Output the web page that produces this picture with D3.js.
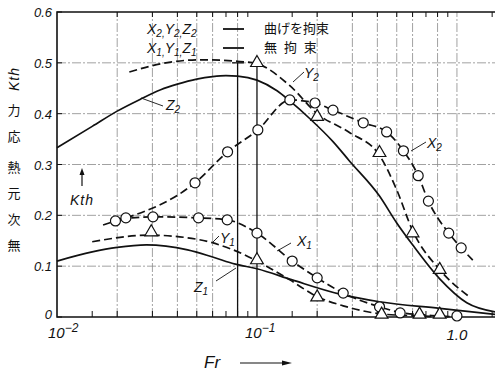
<!DOCTYPE html>
<html>
<head>
<meta charset="utf-8">
<script src="https://cdn.jsdelivr.net/npm/d3@7"></script>
<style>
  body { margin: 0; background: #fff; }
  text { font-family: 'Liberation Sans', sans-serif; fill: #111; }
  .jp { font-family: 'Noto Sans CJK JP', sans-serif; }
</style>
</head>
<body>
<div id="chart-area"></div>
<script>
// Fr / Kth readings (log x)
const z2Line = [[0.01,0.333],[0.015,0.375],[0.02,0.405],[0.026,0.428],[0.033,0.447],[0.04,0.458],[0.05,0.468],[0.06,0.473],[0.07,0.475],[0.08,0.474],[0.1,0.466],[0.126,0.445],[0.146,0.425],[0.184,0.39],[0.24,0.345],[0.29,0.307],[0.41,0.238],[0.5,0.185],[0.6,0.142],[0.82,0.075],[1.12,0.028],[1.55,0.01]]
const y2Line = [[0.023,0.482],[0.035,0.5],[0.052,0.506],[0.08,0.503],[0.1,0.498],[0.146,0.455],[0.2,0.4],[0.29,0.363],[0.41,0.318],[0.5,0.25],[0.6,0.17],[0.82,0.093],[1.16,0.039]]
const y2Tri = [[0.1,0.5],[0.2,0.394],[0.41,0.323],[0.6,0.165],[0.82,0.093]]
const x2Line = [[0.017,0.181],[0.0196,0.189],[0.0221,0.195],[0.049,0.264],[0.0713,0.325],[0.101,0.368],[0.146,0.427],[0.195,0.421],[0.24,0.407],[0.34,0.382],[0.445,0.364],[0.54,0.327],[0.64,0.278],[0.72,0.228],[0.91,0.165],[1.05,0.136],[1.2,0.112]]
const x2Circ = [[0.0196,0.189],[0.049,0.264],[0.0713,0.325],[0.101,0.368],[0.146,0.427],[0.195,0.421],[0.24,0.407],[0.34,0.382],[0.445,0.364],[0.54,0.327],[0.64,0.278],[0.72,0.228],[0.91,0.165],[1.05,0.136]]
const x1Line = [[0.0205,0.193],[0.0302,0.197],[0.051,0.195],[0.071,0.191],[0.1,0.165],[0.15,0.11],[0.2,0.077],[0.27,0.047],[0.41,0.02],[0.52,0.009],[0.75,0.003],[1.0,0.0]]
const x1Circ = [[0.0221,0.195],[0.0302,0.197],[0.051,0.195],[0.071,0.191],[0.1,0.165],[0.15,0.11],[0.2,0.077],[0.27,0.047],[0.41,0.02],[0.52,0.008],[1.0,0.002]]
const y1Line = [[0.015,0.148],[0.0292,0.161],[0.05,0.153],[0.075,0.133],[0.1,0.11],[0.146,0.073],[0.2,0.04],[0.27,0.022],[0.42,0.006],[0.65,0.002],[0.9,0.0]]
const y1Tri = [[0.0296,0.167],[0.1,0.112],[0.2,0.039],[0.42,0.005],[0.65,0.005],[0.82,0.005]]
const z1Line = [[0.01,0.11],[0.015,0.128],[0.02,0.137],[0.028,0.142],[0.045,0.132],[0.06,0.118],[0.078,0.104],[0.1,0.095],[0.15,0.073],[0.26,0.045],[0.41,0.03],[0.82,0.017],[1.55,0.005]]

const yTicks = [0, 0.1, 0.2, 0.3, 0.4, 0.5, 0.6]
const gridFr = [0.02,0.03,0.04,0.05,0.06,0.08,0.2,0.3,0.4,0.5,0.6,0.8,1.0]
const minorFr = [0.015,0.02,0.03,0.04,0.05,0.06,0.07,0.08,0.09,0.15,0.2,0.3,0.4,0.5,0.6,0.7,0.8,0.9,1.5]
const dropFr = [0.08, 0.1]

const W = 495, H = 371
const x = d3.scaleLog().domain([0.01, 1.55]).range([57, 495])
const y = d3.scaleLinear().domain([0, 0.6]).range([317, 12])

const svg = d3.select('#chart-area').append('svg')
  .attr('width', W).attr('height', H)

// grid
const grid = svg.append('g')
  .attr('stroke', '#8a8a8a').attr('stroke-width', 0.8)
  .attr('stroke-dasharray', '9,2,2,2')
grid.selectAll('.gv').data(gridFr).enter().append('line')
  .attr('x1', d => x(d)).attr('x2', d => x(d))
  .attr('y1', y(0)).attr('y2', y(0.6))
grid.selectAll('.gh').data(yTicks.slice(1, 6)).enter().append('line')
  .attr('x1', x(0.01)).attr('x2', W)
  .attr('y1', d => y(d)).attr('y2', d => y(d))

// drop lines at peaks
svg.selectAll('.drop').data(dropFr).enter().append('line')
  .attr('x1', d => x(d)).attr('x2', d => x(d))
  .attr('y1', y(0)).attr('y2', y(0.5))
  .attr('stroke', '#111').attr('stroke-width', 1.3)
svg.append('line')
  .attr('x1', x(0.075)).attr('x2', x(0.086))
  .attr('y1', y(0.5)).attr('y2', y(0.5))
  .attr('stroke', '#111').attr('stroke-width', 1.3)

// frame
svg.append('path')
  .attr('d', `M${W},${y(0.6)}H${x(0.01)}V${y(0)}H${W}`)
  .attr('fill', 'none').attr('stroke', '#111').attr('stroke-width', 1.6)

// ticks
const ticks = svg.append('g').attr('stroke', '#111').attr('stroke-width', 1)
ticks.selectAll('.tb').data(minorFr).enter().append('line')
  .attr('x1', d => x(d)).attr('x2', d => x(d))
  .attr('y1', y(0)).attr('y2', y(0) - 6)
ticks.selectAll('.tt').data(minorFr.slice(1)).enter().append('line')
  .attr('x1', d => x(d)).attr('x2', d => x(d))
  .attr('y1', y(0.6)).attr('y2', y(0.6) + 5)
ticks.selectAll('.ty').data(yTicks).enter().append('line')
  .attr('x1', x(0.01)).attr('x2', x(0.01) + 5)
  .attr('y1', d => y(d)).attr('y2', d => y(d))

// y tick labels
svg.selectAll('.yl').data(yTicks).enter().append('text')
  .attr('x', 52).attr('y', d => d === 0 ? y(d) + 2 : y(d) + 5)
  .attr('text-anchor', 'end')
  .attr('font-size', 13).attr('font-style', 'italic')
  .text(d => d === 0 ? '0' : d.toFixed(1))

// x tick labels
const xl = svg.append('g').attr('font-size', 15).attr('font-style', 'italic')
const t2 = xl.append('text').attr('x', x(0.01) - 9).attr('y', 338)
t2.append('tspan').text('10')
t2.append('tspan').attr('dy', -6).attr('font-size', 12).text('−2')
const t1 = xl.append('text').attr('x', x(0.1) - 12).attr('y', 338)
t1.append('tspan').text('10')
t1.append('tspan').attr('dy', -6).attr('font-size', 12).text('−1')
xl.append('text').attr('x', x(1)).attr('y', 340).attr('text-anchor', 'middle').text('1.0')

// curves
const line = d3.line().x(d => x(d[0])).y(d => y(d[1])).curve(d3.curveMonotoneX)
const curves = [
  {data: z2Line, dash: null},
  {data: z1Line, dash: null},
  {data: y2Line, dash: '8,4'},
  {data: x2Line, dash: '8,4'},
  {data: x1Line, dash: '8,4'},
  {data: y1Line, dash: '8,4'}
]
svg.selectAll('.curve').data(curves).enter().append('path')
  .attr('d', d => line(d.data))
  .attr('fill', 'none').attr('stroke', '#111').attr('stroke-width', 1.7)
  .attr('stroke-dasharray', d => d.dash)

// markers
svg.selectAll('.circ').data(x2Circ.concat(x1Circ)).enter().append('circle')
  .attr('cx', d => x(d[0])).attr('cy', d => y(d[1])).attr('r', 5)
  .attr('fill', '#fff').attr('stroke', '#111').attr('stroke-width', 1.2)
const tri = d3.symbol().type(d3.symbolTriangle).size(70)
svg.selectAll('.tri').data(y2Tri.concat(y1Tri)).enter().append('path')
  .attr('d', tri)
  .attr('transform', d => `translate(${x(d[0])},${y(d[1])})`)
  .attr('fill', '#fff').attr('stroke', '#111').attr('stroke-width', 1.2)

// curve labels with leaders
function sub(sel, letter, idx) {
  sel.append('tspan').text(letter)
  sel.append('tspan').attr('dy', 3).attr('font-size', 10).text(idx)
}
const labels = [
  {l: 'Z', i: '2', tx: 166, ty: 110, lx1: 141, ly1: 98, lx2: 163, ly2: 106},
  {l: 'Y', i: '2', tx: 304, ty: 78, lx1: 293, ly1: 82, lx2: 304, ly2: 72},
  {l: 'X', i: '2', tx: 427, ty: 148, lx1: 411, ly1: 151, lx2: 426, ly2: 142},
  {l: 'X', i: '1', tx: 297, ty: 246, lx1: 277, ly1: 251, lx2: 291, ly2: 243},
  {l: 'Y', i: '1', tx: 220, ty: 243, lx1: 212, ly1: 243, lx2: 219, ly2: 236},
  {l: 'Z', i: '1', tx: 194, ty: 292, lx1: 216, ly1: 281, lx2: 236, ly2: 268}
]
labels.forEach(d => {
  svg.append('line')
    .attr('x1', d.lx1).attr('y1', d.ly1).attr('x2', d.lx2).attr('y2', d.ly2)
    .attr('stroke', '#111').attr('stroke-width', 0.9)
  const t = svg.append('text').attr('x', d.tx).attr('y', d.ty)
    .attr('font-size', 14).attr('font-style', 'italic')
  sub(t, d.l, d.i)
})

// legend
const leg = svg.append('g')
const legRows = [
  {names: ['X','Y','Z'], idx: '2', text: '曲げを拘束', spacing: 0, yy: 34},
  {names: ['X','Y','Z'], idx: '1', text: '無 拘 束', spacing: 2, yy: 53}
]
legRows.forEach(r => {
  const t = leg.append('text').attr('x', 147).attr('y', r.yy)
    .attr('font-size', 14).attr('font-style', 'italic')
  r.names.forEach((n, k) => {
    t.append('tspan').attr('dy', k === 0 ? 0 : -3).text(n)
    t.append('tspan').attr('dy', 3).attr('font-size', 10).text(r.idx + (k < 2 ? ',' : ''))
  })
  leg.append('line').attr('x1', 223).attr('x2', 244)
    .attr('y1', r.yy - 5).attr('y2', r.yy - 5)
    .attr('stroke', '#111').attr('stroke-width', 1.8)
  leg.append('text').attr('class', 'jp').attr('x', 264).attr('y', r.yy - 1)
    .attr('font-size', 13).attr('letter-spacing', r.spacing)
    .text(r.text)
})

// Kth arrow inside plot
svg.append('line').attr('x1', 82).attr('x2', 82).attr('y1', 186).attr('y2', 172)
  .attr('stroke', '#111').attr('stroke-width', 1.2)
svg.append('path').attr('d', 'M82,168 L79.5,175 L84.5,175 Z').attr('fill', '#111')
svg.append('text').attr('x', 70).attr('y', 205)
  .attr('font-size', 14).attr('font-style', 'italic').attr('letter-spacing', 1)
  .text('Kth')

// y axis title, upright characters reading upward
const yChars = ['無', '次', '元', '熱', '応', '力']
const yCharPos = [245, 219, 193, 167, 136, 110]
svg.selectAll('.ych').data(yChars).enter().append('text')
  .attr('class', 'jp')
  .attr('x', 14).attr('y', (d, i) => yCharPos[i] + 5)
  .attr('text-anchor', 'middle').attr('font-size', 13)
  .text(d => d)
svg.append('text')
  .attr('transform', 'translate(19,79) rotate(-90)')
  .attr('text-anchor', 'middle').attr('font-size', 14).attr('font-style', 'italic')
  .attr('letter-spacing', 1)
  .text('Kth')

// x axis title
svg.append('text').attr('x', 204).attr('y', 368)
  .attr('font-size', 17).attr('font-style', 'italic').text('Fr')
svg.append('line').attr('x1', 240).attr('x2', 284).attr('y1', 363).attr('y2', 363)
  .attr('stroke', '#111').attr('stroke-width', 1.2)
svg.append('path').attr('d', 'M292,363 L282,360.5 L282,365.5 Z').attr('fill', '#111')
</script>
</body>
</html>
